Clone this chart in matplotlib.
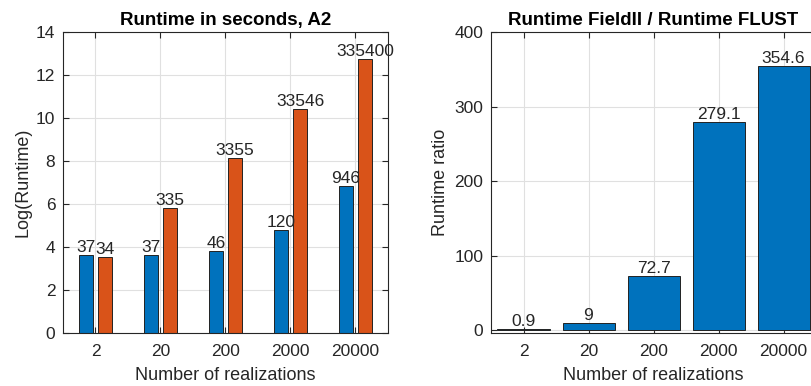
import numpy as np
import matplotlib
matplotlib.use("Agg")
from matplotlib import pyplot as plt

plt.rcParams['font.family'] = ['Liberation Sans', 'DejaVu Sans']

realizations = ["2", "20", "200", "2000", "20000"]
runtime_field2 = [37, 37, 46, 120, 946]
runtime_flust = [34, 335, 3355, 33546, 335400]
ratio = [0.9, 9, 72.7, 279.1, 354.6]

blue = "#0072BD"
orange = "#D95319"
axcol = "#262626"

fig = plt.figure(figsize=(8.12, 3.86), dpi=100)

def style(ax):
    ax.set_axisbelow(True)
    ax.grid(True, color="#e0e0e0", linewidth=0.8)
    ax.tick_params(direction="in", top=True, right=True, labelsize=12.5, colors=axcol, length=4)
    ax.tick_params(axis="x", pad=8)
    ax.tick_params(axis="y", pad=5.5)
    for s in ax.spines.values():
        s.set_color(axcol)
        s.set_linewidth(0.8)

x = np.arange(1, len(realizations) + 1)

# left: log runtimes
ax1 = fig.add_axes([63 / 812, 53 / 386, 325 / 812, 301 / 386])
log_a = np.log(runtime_field2)
log_b = np.log(runtime_flust)
w = 0.23
off = 0.146
ax1.bar(x - off, log_a, w, color=blue, edgecolor="#222222", linewidth=0.7)
ax1.bar(x + off, log_b, w, color=orange, edgecolor="#222222", linewidth=0.7)
for xi, v, r in zip(x, log_a, runtime_field2):
    ax1.text(xi - off, v, str(r), ha="center", va="bottom", fontsize=12.5, color=axcol)
for xi, v, r in zip(x, log_b, runtime_flust):
    ax1.text(xi + off, v, str(r), ha="center", va="bottom", fontsize=12.5, color=axcol)
ax1.set_xlim(0.5, 5.5)
ax1.set_ylim(0, 14)
ax1.set_xticks(x)
ax1.set_xticklabels(realizations)
ax1.set_yticks(range(0, 15, 2))
style(ax1)
ax1.set_xlabel("Number of realizations", fontsize=13, color=axcol, labelpad=5.5)
ax1.set_ylabel("Log(Runtime)", fontsize=13, color=axcol, labelpad=3.5)
ax1.set_title("Runtime in seconds, A2", fontsize=13.5, fontweight="bold", color="black", pad=5)

# right: ratio
ax2 = fig.add_axes([491 / 812, 53 / 386, 325 / 812, 301 / 386])
ax2.bar(x, ratio, 0.8, color=blue, edgecolor="#222222", linewidth=0.7)
for xi, v in zip(x, ratio):
    ax2.text(xi, v, f"{v:g}", ha="center", va="bottom", fontsize=12.5, color=axcol)
ax2.set_xlim(0.5, 5.5)
ax2.set_ylim(-4, 400)
ax2.set_xticks(x)
ax2.set_xticklabels(realizations)
ax2.set_yticks(range(0, 401, 100))
style(ax2)
ax2.set_xlabel("Number of realizations", fontsize=13, color=axcol, labelpad=5.5)
ax2.set_ylabel("Runtime ratio", fontsize=13, color=axcol, labelpad=4)
ax2.set_title("Runtime FieldII / Runtime FLUST", fontsize=13.5, fontweight="bold", color="black", pad=5)

fig.savefig("out.png", dpi=100)
